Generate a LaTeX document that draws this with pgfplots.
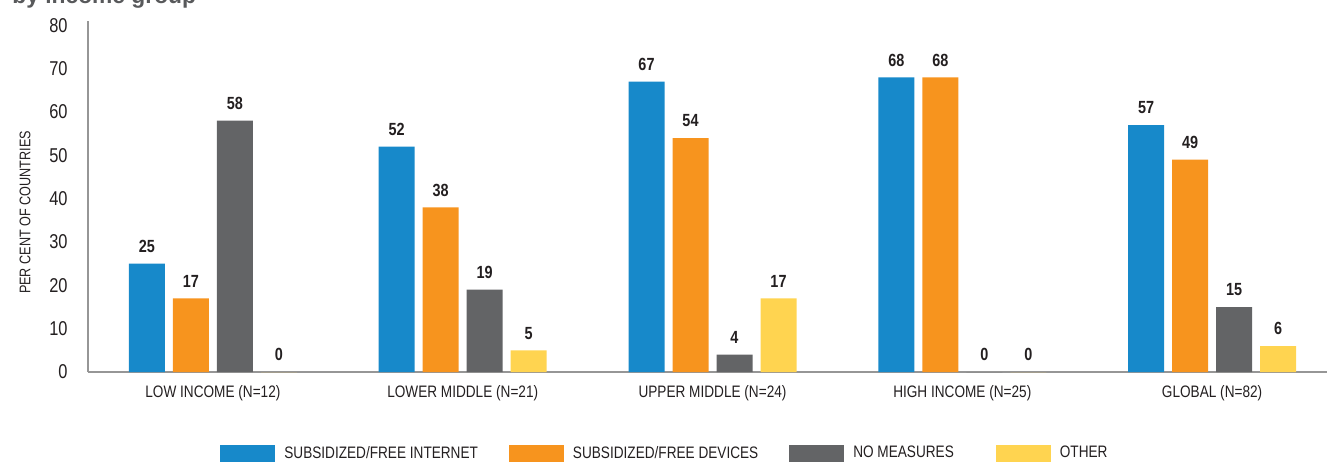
\documentclass[border=0pt]{standalone}
\usepackage{fontspec}
\setmainfont[FakeStretch=0.82]{Liberation Sans}
\newfontfamily\titlefont{Liberation Sans}
\usepackage{pgfplots}
\pgfplotsset{compat=1.18}
\usepackage{xcolor}

\definecolor{cblue}{RGB}{23,137,202}
\definecolor{corange}{RGB}{247,148,30}
\definecolor{cgray}{RGB}{99,100,102}
\definecolor{cyellow}{RGB}{255,212,80}
\definecolor{axisgray}{RGB}{150,150,150}
\definecolor{txt}{RGB}{35,31,32}
\definecolor{titlegray}{RGB}{88,89,91}

\begin{document}
\begin{tikzpicture}[x=1pt,y=1pt]
\begin{axis}[
  at={(44pt,44.5pt)}, anchor=south west,
  scale only axis, width=619.5pt, height=175.5pt,
  ybar=4pt, bar width=18pt,
  xmin=-0.5, xmax=4.46, ymin=0, ymax=81,
  xtick={0,1,2,3,4},
  xticklabels={LOW INCOME (N=12),LOWER MIDDLE (N=21),UPPER MIDDLE (N=24),HIGH INCOME (N=25),GLOBAL (N=82)},
  ytick={0,10,...,80},
  axis x line=bottom, axis y line=left,
  x axis line style={-, draw=axisgray, line width=0.7pt},
  y axis line style={-, draw=axisgray, line width=0.7pt},
  major tick length=0pt,
  /pgf/number format/assume math mode=true,
  xticklabel style={font=\fontsize{8.3}{10}\selectfont, text=txt, anchor=north, inner sep=0pt, yshift=-6.5pt},
  yticklabel style={font=\fontsize{10}{12}\selectfont, text=txt, anchor=east, inner sep=0pt, xshift=-10pt},
  nodes near coords,
  every node near coord/.append style={font=\bfseries\fontsize{8.8}{10}\selectfont, text=txt, anchor=south, inner sep=0pt, yshift=5.3pt},
  clip=false,
  legend columns=4,
  legend image code/.code={\fill[#1] (0pt,-4.25pt) rectangle (27.5pt,4.25pt);},
  legend style={at={(0.1065,-0.2322)}, anchor=west, draw=none, fill=none, inner sep=0pt,
    font=\fontsize{8.3}{10}\selectfont, text=txt,
    nodes={inner sep=0pt, anchor=west},
    /tikz/every odd column/.style={column sep=4.5pt},
    /tikz/column 2/.style={column sep=15.5pt},
    /tikz/column 4/.style={column sep=15.5pt},
    /tikz/column 6/.style={column sep=21pt}},
]
\addplot[fill=cblue, draw=none] coordinates {(0,25) (1,52) (2,67) (3,68) (4,57)};
\addlegendentry{SUBSIDIZED/FREE INTERNET}
\addplot[fill=corange, draw=none] coordinates {(0,17) (1,38) (2,54) (3,68) (4,49)};
\addlegendentry{SUBSIDIZED/FREE DEVICES}
\addplot[fill=cgray, draw=none] coordinates {(0,58) (1,19) (2,4) (3,0) (4,15)};
\addlegendentry{NO MEASURES}
\addplot[fill=cyellow, draw=none] coordinates {(0,0) (1,5) (2,17) (3,0) (4,6)};
\addlegendentry{OTHER}
\end{axis}
\node[rotate=90, font=\fontsize{7.7}{9}\selectfont, text=txt, inner sep=0pt] at (12.5,124.25) {PER CENT OF COUNTRIES};
\node[anchor=base west, font=\titlefont\bfseries\fontsize{11.4}{13}\selectfont, text=titlegray, inner sep=0pt] at (6,228.5) {by income group};
\pgfresetboundingbox
\useasboundingbox (0,0) rectangle (663.5,230.5);
\end{tikzpicture}
\end{document}
